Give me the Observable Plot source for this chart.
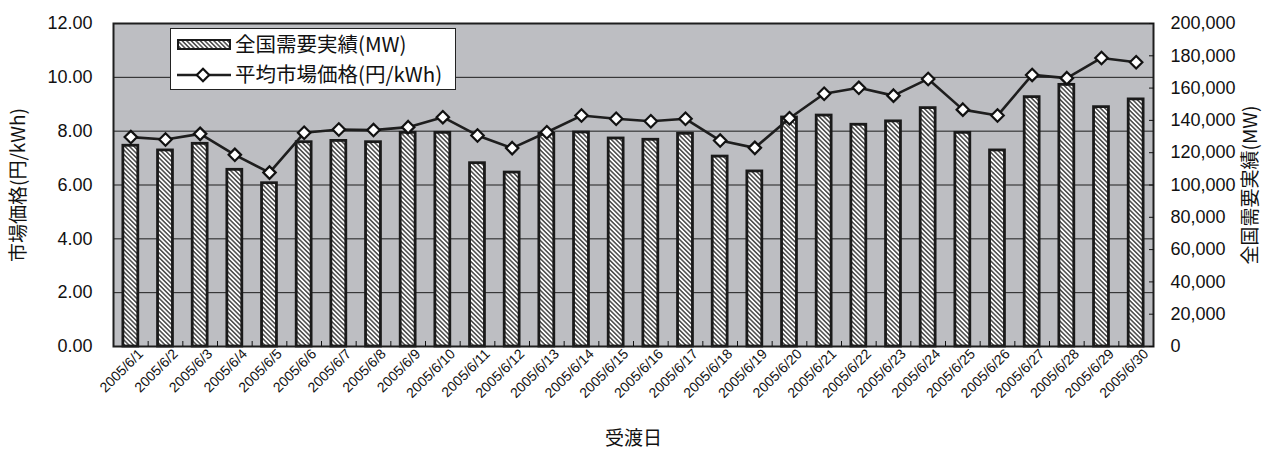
<!DOCTYPE html>
<html>
<head>
<meta charset="utf-8">
<script src="https://cdn.jsdelivr.net/npm/d3@7"></script>
<script src="https://cdn.jsdelivr.net/npm/@observablehq/plot@0.6"></script>
<style>
  html, body { margin: 0; padding: 0; background: #fff; }
  #chart { width: 1265px; height: 450px; }
</style>
</head>
<body>
<div id="chart"></div>
<script>
// Daily delivery dates, June 2005
const dates = [
  "2005/6/1", "2005/6/2", "2005/6/3", "2005/6/4", "2005/6/5", "2005/6/6",
  "2005/6/7", "2005/6/8", "2005/6/9", "2005/6/10", "2005/6/11", "2005/6/12",
  "2005/6/13", "2005/6/14", "2005/6/15", "2005/6/16", "2005/6/17", "2005/6/18",
  "2005/6/19", "2005/6/20", "2005/6/21", "2005/6/22", "2005/6/23", "2005/6/24",
  "2005/6/25", "2005/6/26", "2005/6/27", "2005/6/28", "2005/6/29", "2005/6/30"
];

// 全国需要実績 (MW), right axis
const demandMW = [
  124300, 121400, 125500, 109400, 101100, 126500,
  127300, 126500, 132300, 132300, 113500, 107700,
  131700, 132500, 128800, 128000, 131700, 117600,
  108400, 141800, 143000, 137300, 139400, 147600,
  132300, 121400, 154400, 162000, 148200, 153000
];

// 平均市場価格 (円/kWh), left axis
const price = [
  7.78, 7.69, 7.90, 7.12, 6.46, 7.94,
  8.06, 8.04, 8.15, 8.52, 7.84, 7.37,
  7.96, 8.58, 8.46, 8.37, 8.46, 7.65,
  7.38, 8.48, 9.39, 9.61, 9.32, 9.94,
  8.80, 8.58, 10.09, 9.97, 10.72, 10.56
];

// Axis ticks
const priceTicks = [0, 2, 4, 6, 8, 10, 12];
const gridTicks = [2, 4, 6, 8, 10];
const demandTicks = [0, 20000, 40000, 60000, 80000, 100000, 120000, 140000, 160000, 180000, 200000];

// Text
const leftTitle = "市場価格(円/kWh)";
const rightTitle = "全国需要実績(MW)";
const xTitle = "受渡日";
const demandName = "全国需要実績(MW)";
const priceName = "平均市場価格(円/kWh)";

// The right axis (0–200,000 MW) shares the plot height with the left (0–12 円/kWh)
const priceMax = 12;
const demandMax = 200000;
const toPriceUnits = mw => mw / demandMax * priceMax;

const rows = dates.map((date, i) => ({
  day: i + 1,
  date,
  mw: demandMW[i],
  price: price[i]
}));

const half = 0.215; // half bar width, in days
const fontLatin = "'Liberation Sans', 'Noto Sans CJK JP', sans-serif";
const fontCJK = "'Noto Sans CJK JP', 'Liberation Sans', sans-serif";
const fmtMW = d3.format(",");

const chart = Plot.plot({
  width: 1265,
  height: 450,
  marginLeft: 113,
  marginRight: 112,
  marginTop: 23,
  marginBottom: 104,
  style: { fontFamily: fontLatin, background: "#fff", color: "#111" },
  x: { type: "linear", domain: [0.5, dates.length + 0.5], axis: null },
  y: { domain: [0, priceMax], axis: null },
  marks: [
    Plot.frame({ fill: "#bdbec2" }),
    Plot.ruleY(gridTicks, { stroke: "#1e1e1e", strokeWidth: 1 }),
    Plot.rectY(rows, {
      x1: d => d.day - half,
      x2: d => d.day + half,
      y1: 0,
      y2: d => toPriceUnits(d.mw),
      fill: "url(#hatch)",
      stroke: "#1a1a1a",
      strokeWidth: 2.8
    }),
    Plot.line(rows, { x: "day", y: "price", stroke: "#1e1e1e", strokeWidth: 2.6 }),
    Plot.dot(rows, {
      x: "day", y: "price", symbol: "diamond2", r: 5.6,
      fill: "#fff", stroke: "#111", strokeWidth: 2.2
    }),
    Plot.frame({ stroke: "#1e1e1e", strokeWidth: 2 }),
    // left axis
    Plot.axisY(priceTicks, {
      anchor: "left", tickSize: 0, tickPadding: 21, fontSize: 18,
      tickFormat: d => d.toFixed(2), label: null
    }),
    // right axis, inward ticks
    Plot.axisY(demandTicks.map(toPriceUnits), {
      anchor: "right", tickSize: -5, tickPadding: 22, fontSize: 18,
      tickFormat: v => fmtMW(Math.round(v / priceMax * demandMax)), label: null
    }),
    // inward ticks between days on the bottom
    Plot.axisX(d3.range(1.5, dates.length, 1), {
      anchor: "bottom", tickSize: -5, tickFormat: () => "", label: null
    }),
    // date labels
    Plot.axisX(rows.map(d => d.day), {
      anchor: "bottom", tickSize: 0, tickPadding: 5, tickRotate: -45, fontSize: 14,
      dx: 10, tickFormat: d => dates[d - 1], label: null
    }),
    // axis titles
    Plot.text([leftTitle], {
      frameAnchor: "left", textAnchor: "middle", rotate: -90, dx: -95,
      fontSize: 19, fontFamily: fontCJK, fill: "#111"
    }),
    Plot.text([rightTitle], {
      frameAnchor: "right", textAnchor: "middle", rotate: -90, dx: 97,
      fontSize: 19, fontFamily: fontCJK, fill: "#111"
    }),
    Plot.text([xTitle], {
      frameAnchor: "bottom", dy: 98, fontSize: 19, fontFamily: fontCJK, fill: "#111"
    })
  ]
});

// Hatch pattern used by the bars and the legend swatch
const svg = d3.select(chart);
const defs = svg.insert("defs", ":first-child");
const pat = defs.append("pattern")
  .attr("id", "hatch")
  .attr("patternUnits", "userSpaceOnUse")
  .attr("width", 3.2)
  .attr("height", 3.2)
  .attr("patternTransform", "rotate(-45)");
pat.append("rect").attr("width", 3.2).attr("height", 3.2).attr("fill", "#fff");
pat.append("line")
  .attr("x1", 0.8).attr("y1", 0).attr("x2", 0.8).attr("y2", 3.2)
  .attr("stroke", "#1a1a1a").attr("stroke-width", 1.2);

// Legend box in the upper-left of the plot area
const lg = svg.append("g")
  .attr("font-family", fontCJK)
  .attr("font-size", 20.5)
  .attr("text-anchor", "start")
  .attr("fill", "#111");
lg.append("rect")
  .attr("x", 170.5).attr("y", 28.5).attr("width", 285).attr("height", 61)
  .attr("fill", "#fff").attr("stroke", "#222").attr("stroke-width", 1);
lg.append("rect")
  .attr("x", 178).attr("y", 40).attr("width", 52).attr("height", 9)
  .attr("fill", "url(#hatch)").attr("stroke", "#1a1a1a").attr("stroke-width", 2);
lg.append("text").attr("x", 235).attr("y", 52).text(demandName);
lg.append("line")
  .attr("x1", 177).attr("x2", 231).attr("y1", 75).attr("y2", 75)
  .attr("stroke", "#1e1e1e").attr("stroke-width", 2.6);
lg.append("path")
  .attr("d", d3.symbol(d3.symbolDiamond2, Math.PI * 5.6 * 5.6)())
  .attr("transform", "translate(203,75)")
  .attr("fill", "#fff").attr("stroke", "#111").attr("stroke-width", 2.2);
lg.append("text").attr("x", 235).attr("y", 82).text(priceName);

document.getElementById("chart").appendChild(chart);
</script>
</body>
</html>
